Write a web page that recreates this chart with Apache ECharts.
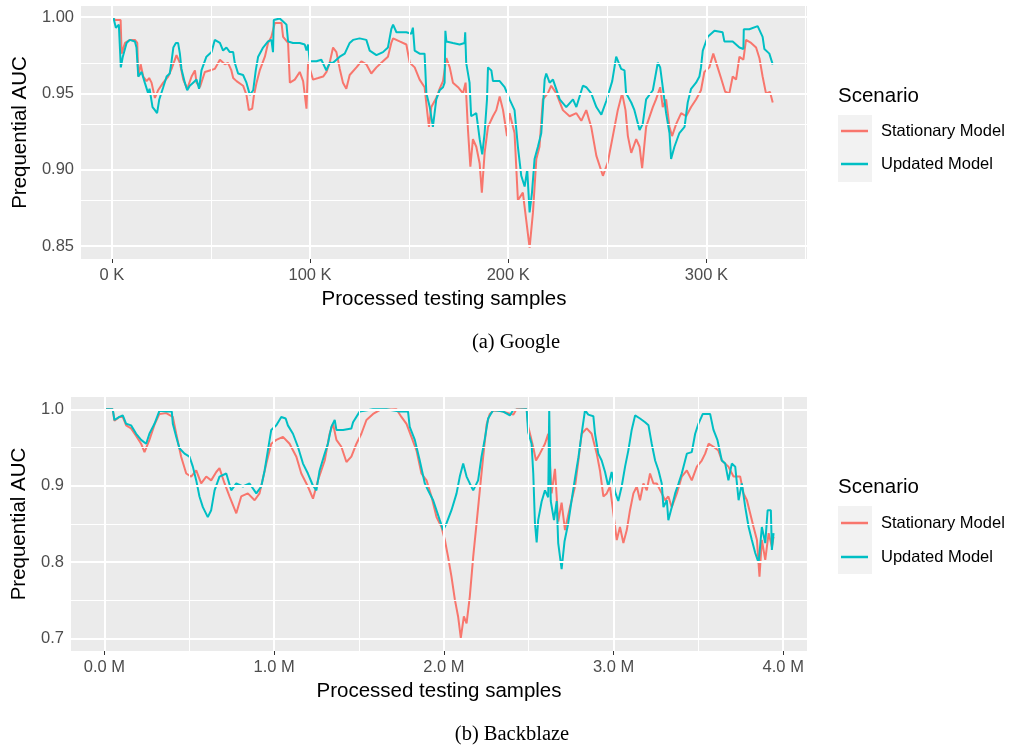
<!DOCTYPE html>
<html>
<head>
<meta charset="utf-8">
<script src="https://cdn.jsdelivr.net/npm/echarts@6/dist/echarts.min.js"></script>
<style>
html,body{margin:0;padding:0;background:#fff;}
#chart{width:1016px;height:748px;}
</style>
</head>
<body>
<div id="chart"></div>
<script>
// ---------- DATA (x in thousands of samples / millions of samples, y = prequential AUC) ----------
const seriesNames = ['Stationary Model', 'Updated Model'];
const googleXTicks = [0, 100, 200, 300];
const googleXMinor = [50, 150, 250, 350];
const googleYTicks = [0.85, 0.90, 0.95, 1.00];
const googleYMinor = [0.875, 0.925, 0.975];
const backblazeXTicks = [0, 1, 2, 3, 4];
const backblazeXMinor = [0.5, 1.5, 2.5, 3.5];
const backblazeYTicks = [0.7, 0.8, 0.9, 1.0];
const backblazeYMinor = [0.75, 0.85, 0.95];

const googleStationary = [[0.7,1.000],[1.5,0.998],[4.4,0.998],[4.9,0.976],[6.6,0.983],[9.1,0.985],[11.6,0.985],[12.8,0.983],[13.3,0.961],[14.5,0.969],[15.8,0.961],[17.5,0.958],[18.8,0.960],[20,0.957],[21.7,0.947],[23.3,0.952],[25.9,0.957],[28.4,0.961],[30.1,0.966],[32.6,0.975],[34.3,0.970],[36,0.959],[38,0.953],[40.2,0.961],[41.9,0.965],[42.7,0.957],[44.4,0.954],[46.9,0.964],[49.4,0.965],[51.9,0.966],[54.5,0.972],[57,0.969],[58.6,0.970],[60.3,0.965],[61.2,0.960],[62.9,0.958],[66.2,0.955],[67.9,0.949],[69.1,0.939],[70.8,0.940],[71.6,0.948],[73,0.957],[74.6,0.965],[77.2,0.974],[78.8,0.983],[80.5,0.987],[82.2,0.996],[85.6,0.996],[86.4,0.987],[88.9,0.983],[89.8,0.957],[92.3,0.959],[94.8,0.964],[96.5,0.958],[98.2,0.940],[99,0.970],[101.5,0.959],[104.1,0.960],[106.6,0.961],[108.3,0.964],[109.9,0.970],[111.6,0.980],[113.3,0.977],[115,0.966],[116.6,0.957],[118.3,0.953],[120,0.962],[123.4,0.967],[125.9,0.971],[128.4,0.969],[130.9,0.963],[133.5,0.967],[136.8,0.971],[139.3,0.974],[141,0.983],[141.9,0.986],[145.2,0.984],[148.6,0.982],[150.3,0.970],[152.8,0.967],[155.3,0.959],[157.8,0.954],[159.2,0.937],[160,0.928],[161.2,0.941],[163.7,0.947],[165.4,0.953],[167.1,0.958],[168.8,0.973],[170.5,0.967],[172.1,0.957],[174.7,0.954],[177.2,0.950],[178.5,0.957],[179.7,0.926],[180.9,0.902],[182.2,0.920],[183.9,0.915],[185.6,0.904],[186.7,0.885],[188.1,0.911],[189.8,0.928],[192.3,0.935],[194,0.939],[195.7,0.948],[197.4,0.939],[199.4,0.922],[200.7,0.937],[203.2,0.924],[204.9,0.880],[207.4,0.885],[209.1,0.867],[210.8,0.849],[212.5,0.872],[214.2,0.907],[215.8,0.915],[217.5,0.946],[220,0.950],[221.7,0.955],[224.3,0.950],[227.6,0.939],[231,0.935],[234.4,0.937],[236.9,0.932],[239.4,0.939],[241.9,0.928],[244.5,0.909],[247.8,0.896],[250.3,0.905],[252.8,0.922],[255.3,0.939],[257.5,0.950],[259.2,0.939],[260.4,0.922],[262.1,0.911],[264.6,0.920],[266.3,0.915],[267.6,0.901],[269.6,0.928],[273,0.941],[274.6,0.946],[276.7,0.954],[278,0.941],[279.7,0.946],[281.4,0.928],[282.7,0.922],[284.8,0.930],[287.3,0.937],[289.8,0.935],[292.3,0.941],[294.8,0.946],[297.3,0.952],[299,0.964],[301.5,0.967],[303.5,0.976],[305.7,0.967],[307.4,0.960],[309.5,0.951],[311.6,0.950],[313.3,0.961],[315,0.959],[316.7,0.974],[318.7,0.972],[320,0.985],[322.6,0.983],[325.1,0.980],[326.8,0.973],[328.4,0.961],[330.1,0.950],[332.1,0.951],[333.5,0.944]];

const googleUpdated = [[0.7,1.000],[2,0.993],[3.5,0.995],[4.3,0.995],[4.5,0.967],[5.5,0.974],[7.4,0.983],[9,0.985],[11.6,0.984],[12.4,0.980],[13.3,0.961],[15,0.964],[16.6,0.957],[18.3,0.950],[19,0.953],[20.5,0.941],[21.7,0.939],[22.8,0.937],[23.9,0.946],[25.9,0.954],[27.6,0.961],[29.2,0.963],[30,0.970],[31,0.980],[32.3,0.983],[33.4,0.983],[34.3,0.976],[35.1,0.966],[36.8,0.957],[38,0.952],[39.3,0.955],[41,0.957],[42.7,0.959],[44,0.953],[45.2,0.965],[47.7,0.974],[50.3,0.977],[51.9,0.985],[54.5,0.983],[56.1,0.978],[57.8,0.980],[59.5,0.977],[61.2,0.977],[62,0.970],[63.7,0.963],[66.2,0.962],[67.9,0.957],[69.6,0.949],[71.3,0.952],[72.6,0.965],[73.8,0.974],[76.3,0.980],[78.8,0.984],[80.5,0.985],[81.3,0.977],[81.7,0.998],[84.7,0.999],[86.4,0.997],[88.1,0.995],[88.9,0.984],[91.4,0.983],[94.8,0.983],[97.3,0.982],[98.2,0.978],[99,0.982],[99.8,0.971],[103.2,0.971],[105.7,0.972],[108.2,0.965],[109.9,0.970],[111.6,0.970],[113.3,0.972],[115,0.974],[117.5,0.976],[120,0.983],[121.7,0.985],[125,0.986],[128.4,0.985],[130.1,0.978],[133.5,0.975],[136.8,0.977],[139.3,0.980],[141,0.992],[141.9,0.995],[143.6,0.990],[148.6,0.990],[151.1,0.989],[151.9,0.993],[152.8,0.978],[155.3,0.976],[157.8,0.976],[158.7,0.950],[160.4,0.941],[162,0.928],[163.7,0.946],[165.4,0.952],[167.1,0.954],[167.9,0.957],[168.3,0.991],[168.8,0.984],[172.1,0.983],[175.5,0.982],[178,0.983],[178.3,0.990],[178.8,0.970],[180.5,0.957],[181.3,0.935],[183.9,0.937],[185.6,0.920],[186.9,0.910],[188.1,0.924],[189.3,0.946],[189.8,0.967],[191.5,0.965],[192.3,0.958],[195.7,0.958],[198.2,0.954],[200.7,0.946],[203.2,0.939],[204.9,0.915],[206.6,0.896],[208.3,0.889],[209.6,0.900],[210.8,0.872],[212,0.885],[213.3,0.907],[215,0.915],[216.7,0.924],[218.4,0.959],[219.2,0.963],[220.9,0.957],[222.6,0.959],[226,0.946],[229.3,0.941],[232.7,0.946],[234.4,0.941],[237.7,0.955],[239.4,0.954],[241.9,0.950],[244.5,0.941],[247,0.936],[249.5,0.945],[252.5,0.958],[254.5,0.974],[255.3,0.974],[257,0.966],[258.7,0.965],[259.5,0.950],[262.1,0.944],[263.7,0.939],[266.3,0.926],[267.9,0.930],[269.6,0.946],[273,0.952],[275.5,0.970],[276.7,0.967],[278,0.954],[279.7,0.937],[281.4,0.924],[282.2,0.907],[283.9,0.915],[286.4,0.924],[289,0.928],[290.6,0.944],[292.3,0.953],[294.8,0.957],[296.5,0.961],[297.3,0.967],[298.2,0.978],[300.7,0.987],[304.1,0.991],[308.2,0.990],[309.1,0.984],[313.3,0.984],[316.7,0.980],[318.7,0.979],[318.9,0.992],[321.7,0.992],[325.9,0.994],[328.4,0.987],[329.3,0.979],[331.8,0.976],[333.5,0.969]];

const backblazeStationary = [[0,1.0],[0.049,1.0],[0.059,0.985],[0.088,0.990],[0.108,0.990],[0.128,0.979],[0.157,0.975],[0.187,0.965],[0.216,0.955],[0.236,0.944],[0.265,0.960],[0.295,0.980],[0.324,0.994],[0.364,0.995],[0.403,0.990],[0.423,0.968],[0.452,0.938],[0.482,0.916],[0.511,0.912],[0.541,0.920],[0.570,0.903],[0.600,0.912],[0.629,0.907],[0.659,0.918],[0.678,0.923],[0.708,0.903],[0.737,0.886],[0.777,0.864],[0.806,0.886],[0.845,0.890],[0.885,0.881],[0.914,0.890],[0.954,0.929],[0.983,0.955],[1.013,0.960],[1.052,0.964],[1.091,0.955],[1.131,0.938],[1.160,0.916],[1.199,0.899],[1.229,0.883],[1.258,0.907],[1.298,0.933],[1.327,0.968],[1.347,0.981],[1.367,0.960],[1.396,0.951],[1.426,0.931],[1.455,0.938],[1.485,0.955],[1.514,0.968],[1.544,0.986],[1.583,0.994],[1.622,0.999],[1.721,1.0],[1.750,0.990],[1.780,0.981],[1.809,0.964],[1.839,0.946],[1.868,0.916],[1.898,0.907],[1.927,0.886],[1.957,0.859],[1.986,0.846],[2.006,0.829],[2.025,0.807],[2.045,0.781],[2.065,0.751],[2.084,0.729],[2.100,0.701],[2.118,0.729],[2.134,0.720],[2.153,0.755],[2.173,0.807],[2.193,0.851],[2.212,0.894],[2.232,0.938],[2.252,0.980],[2.271,0.994],[2.291,0.998],[2.330,0.998],[2.409,0.993],[2.428,1.0],[2.488,1.0],[2.498,0.977],[2.527,0.950],[2.543,0.933],[2.566,0.942],[2.596,0.955],[2.615,0.968],[2.635,0.890],[2.655,0.922],[2.674,0.853],[2.694,0.878],[2.714,0.842],[2.743,0.872],[2.773,0.899],[2.793,0.933],[2.812,0.968],[2.842,0.975],[2.871,0.968],[2.901,0.942],[2.920,0.920],[2.940,0.886],[2.960,0.890],[2.979,0.899],[2.999,0.864],[3.019,0.829],[3.038,0.846],[3.058,0.825],[3.078,0.842],[3.097,0.868],[3.117,0.890],[3.137,0.899],[3.156,0.881],[3.176,0.903],[3.196,0.894],[3.215,0.916],[3.235,0.903],[3.255,0.903],[3.284,0.890],[3.304,0.881],[3.323,0.886],[3.343,0.872],[3.373,0.890],[3.402,0.912],[3.432,0.920],[3.461,0.907],[3.491,0.925],[3.520,0.933],[3.540,0.942],[3.560,0.955],[3.589,0.951],[3.618,0.946],[3.638,0.933],[3.677,0.925],[3.707,0.912],[3.746,0.912],[3.766,0.890],[3.786,0.881],[3.805,0.864],[3.825,0.846],[3.845,0.829],[3.860,0.781],[3.874,0.829],[3.894,0.803],[3.914,0.838],[3.933,0.820],[3.943,0.833]];

const backblazeUpdated = [[0,1.0],[0.049,1.0],[0.059,0.986],[0.088,0.990],[0.108,0.992],[0.128,0.981],[0.157,0.979],[0.187,0.968],[0.216,0.960],[0.246,0.955],[0.265,0.968],[0.295,0.981],[0.324,0.998],[0.364,0.997],[0.397,0.997],[0.403,0.981],[0.423,0.964],[0.442,0.949],[0.472,0.942],[0.501,0.938],[0.521,0.925],[0.541,0.907],[0.560,0.886],[0.580,0.872],[0.609,0.859],[0.629,0.868],[0.649,0.894],[0.678,0.912],[0.718,0.916],[0.747,0.894],[0.777,0.903],[0.816,0.899],[0.855,0.903],[0.895,0.890],[0.924,0.899],[0.944,0.920],[0.963,0.946],[0.983,0.973],[1.013,0.979],[1.042,0.990],[1.068,0.988],[1.081,0.979],[1.111,0.968],[1.140,0.951],[1.170,0.929],[1.199,0.916],[1.229,0.900],[1.249,0.894],[1.268,0.920],[1.298,0.942],[1.317,0.955],[1.337,0.977],[1.357,0.986],[1.367,0.973],[1.406,0.973],[1.455,0.975],[1.465,0.983],[1.504,0.997],[1.583,1.0],[1.662,1.0],[1.740,0.997],[1.789,0.997],[1.799,0.977],[1.829,0.960],[1.858,0.933],[1.888,0.903],[1.907,0.894],[1.937,0.881],[1.976,0.855],[1.996,0.842],[2.016,0.851],[2.045,0.868],[2.075,0.890],[2.094,0.912],[2.114,0.929],[2.134,0.912],[2.153,0.903],[2.173,0.894],[2.202,0.907],[2.222,0.938],[2.242,0.962],[2.261,0.988],[2.291,0.999],[2.350,0.997],[2.389,0.992],[2.409,0.999],[2.419,1.0],[2.488,1.0],[2.497,0.970],[2.517,0.955],[2.527,0.916],[2.537,0.851],[2.547,0.826],[2.556,0.855],[2.576,0.879],[2.596,0.894],[2.615,0.885],[2.621,1.0],[2.630,0.880],[2.649,0.855],[2.665,0.880],[2.674,0.825],[2.694,0.791],[2.711,0.827],[2.733,0.851],[2.753,0.881],[2.773,0.910],[2.793,0.937],[2.812,0.968],[2.832,0.999],[2.851,0.993],[2.881,0.991],[2.891,0.968],[2.910,0.942],[2.930,0.933],[2.950,0.918],[2.969,0.899],[2.989,0.918],[3.009,0.892],[3.028,0.880],[3.048,0.899],[3.068,0.925],[3.087,0.946],[3.107,0.973],[3.127,0.992],[3.156,0.988],[3.186,0.983],[3.206,0.979],[3.225,0.955],[3.245,0.933],[3.265,0.920],[3.284,0.903],[3.294,0.872],[3.314,0.881],[3.323,0.855],[3.343,0.872],[3.363,0.890],[3.383,0.903],[3.402,0.916],[3.432,0.942],[3.461,0.944],[3.481,0.968],[3.500,0.981],[3.526,0.994],[3.569,0.994],[3.589,0.973],[3.612,0.960],[3.638,0.933],[3.658,0.929],[3.677,0.907],[3.697,0.929],[3.717,0.925],[3.737,0.881],[3.756,0.903],[3.776,0.872],[3.796,0.846],[3.815,0.829],[3.835,0.812],[3.855,0.799],[3.874,0.846],[3.894,0.825],[3.908,0.868],[3.927,0.868],[3.933,0.816],[3.943,0.838]];

// ---------- STYLE ----------
const SANS = '"Liberation Sans", Arial, Helvetica, sans-serif';
const SERIF = '"Liberation Serif", "DejaVu Serif", serif';
const RED = '#F8766D', TEAL = '#00BFC4';

function gridLines(xMajor, xMinor, yMajor, yMinor) {
  const d = [];
  yMinor.forEach(v => d.push({yAxis: v, lineStyle: {width: 1.1}}));
  xMinor.forEach(v => d.push({xAxis: v, lineStyle: {width: 1.1}}));
  yMajor.forEach(v => d.push({yAxis: v, lineStyle: {width: 2}}));
  xMajor.forEach(v => d.push({xAxis: v, lineStyle: {width: 2}}));
  return d;
}

function gridSeries(idx, xMajor, xMinor, yMajor, yMinor) {
  return {
    name: 'grid' + idx, type: 'line', xAxisIndex: idx, yAxisIndex: idx, z: 1,
    data: [], silent: true, showSymbol: false,
    markLine: {
      silent: true, symbol: ['none', 'none'], animation: false,
      label: {show: false},
      emphasis: {disabled: true},
      lineStyle: {color: '#FFFFFF', type: 'solid', opacity: 1},
      data: gridLines(xMajor, xMinor, yMajor, yMinor)
    }
  };
}

function dataSeries(name, idx, data, color) {
  return {
    name: name, type: 'line', xAxisIndex: idx, yAxisIndex: idx, z: 3,
    data: data, showSymbol: false, symbol: 'none', silent: true,
    lineStyle: {color: color, width: 2}, itemStyle: {color: color},
    emphasis: {disabled: true}
  };
}

const axisTick = {show: true, length: 4, lineStyle: {color: '#333333', width: 1}};
const tickLabel = {color: '#4D4D4D', fontSize: 16.5, fontFamily: SANS};
const nameStyle = {color: '#000000', fontSize: 20.5, fontFamily: SANS};

const option = {
  animation: false,
  backgroundColor: '#FFFFFF',
  grid: [
    {left: 81, top: 6, width: 726, height: 253, show: true, backgroundColor: '#EBEBEB', borderWidth: 0, containLabel: false},
    {left: 71, top: 397, width: 736, height: 254, show: true, backgroundColor: '#EBEBEB', borderWidth: 0, containLabel: false}
  ],
  xAxis: [
    {gridIndex: 0, type: 'value', min: -15.6, max: 350.8,
      axisLine: {show: false}, splitLine: {show: false},
      axisTick: Object.assign({customValues: googleXTicks}, axisTick),
      axisLabel: Object.assign({customValues: googleXTicks, margin: 8, formatter: v => Math.round(v) + ' K'}, tickLabel),
      name: 'Processed testing samples', nameLocation: 'middle', nameGap: 30, nameTextStyle: nameStyle},
    {gridIndex: 1, type: 'value', min: -0.197, max: 4.140,
      axisLine: {show: false}, splitLine: {show: false},
      axisTick: Object.assign({customValues: backblazeXTicks}, axisTick),
      axisLabel: Object.assign({customValues: backblazeXTicks, margin: 8, formatter: v => v.toFixed(1) + ' M'}, tickLabel),
      name: 'Processed testing samples', nameLocation: 'middle', nameGap: 30, nameTextStyle: nameStyle}
  ],
  yAxis: [
    {gridIndex: 0, type: 'value', min: 0.8415, max: 1.0072,
      axisLine: {show: false}, splitLine: {show: false},
      axisTick: Object.assign({customValues: googleYTicks}, axisTick),
      axisLabel: Object.assign({customValues: googleYTicks, margin: 7, formatter: v => v.toFixed(2)}, tickLabel),
      name: 'Prequential AUC', nameLocation: 'middle', nameGap: 47, nameRotate: 90, nameTextStyle: nameStyle},
    {gridIndex: 1, type: 'value', min: 0.6838, max: 1.0161,
      axisLine: {show: false}, splitLine: {show: false},
      axisTick: Object.assign({customValues: backblazeYTicks}, axisTick),
      axisLabel: Object.assign({customValues: backblazeYTicks, margin: 7, formatter: v => v.toFixed(1)}, tickLabel),
      name: 'Prequential AUC', nameLocation: 'middle', nameGap: 37, nameRotate: 90, nameTextStyle: nameStyle}
  ],
  legend: [
    {data: seriesNames, orient: 'vertical', left: 841, top: 122, padding: 0, icon: 'rect',
      itemWidth: 27, itemHeight: 2.5, itemGap: 15, selectedMode: false,
      textStyle: {color: '#000000', fontSize: 16.5, fontFamily: SANS, lineHeight: 18, padding: [0, 0, 0, 8]}},
    {data: seriesNames, orient: 'vertical', left: 841, top: 514, padding: 0, icon: 'rect',
      itemWidth: 27, itemHeight: 2.5, itemGap: 16, selectedMode: false,
      textStyle: {color: '#000000', fontSize: 16.5, fontFamily: SANS, lineHeight: 18, padding: [0, 0, 0, 8]}}
  ],
  graphic: [
    {type: 'rect', left: 838, top: 115, z: -1, shape: {width: 34, height: 67}, style: {fill: '#F2F2F2'}},
    {type: 'rect', left: 838, top: 506, z: -1, shape: {width: 34, height: 68}, style: {fill: '#F2F2F2'}},
    {type: 'text', left: 838, top: 86, style: {text: 'Scenario', fill: '#000000', font: '20.5px ' + SANS}},
    {type: 'text', left: 838, top: 477, style: {text: 'Scenario', fill: '#000000', font: '20.5px ' + SANS}},
    {type: 'text', x: 516, y: 343, style: {text: '(a) Google', fill: '#000000', font: '20.5px ' + SERIF, textAlign: 'center', textVerticalAlign: 'middle'}},
    {type: 'text', x: 512, y: 735, style: {text: '(b) Backblaze', fill: '#000000', font: '20.5px ' + SERIF, textAlign: 'center', textVerticalAlign: 'middle'}}
  ],
  series: [
    gridSeries(0, googleXTicks, googleXMinor, googleYTicks, googleYMinor),
    gridSeries(1, backblazeXTicks, backblazeXMinor, backblazeYTicks, backblazeYMinor),
    dataSeries(seriesNames[0], 0, googleStationary, RED),
    dataSeries(seriesNames[1], 0, googleUpdated, TEAL),
    dataSeries(seriesNames[0], 1, backblazeStationary, RED),
    dataSeries(seriesNames[1], 1, backblazeUpdated, TEAL)
  ]
};

const chart = echarts.init(document.getElementById('chart'), null, {renderer: 'canvas'});
chart.setOption(option);
</script>
</body>
</html>
